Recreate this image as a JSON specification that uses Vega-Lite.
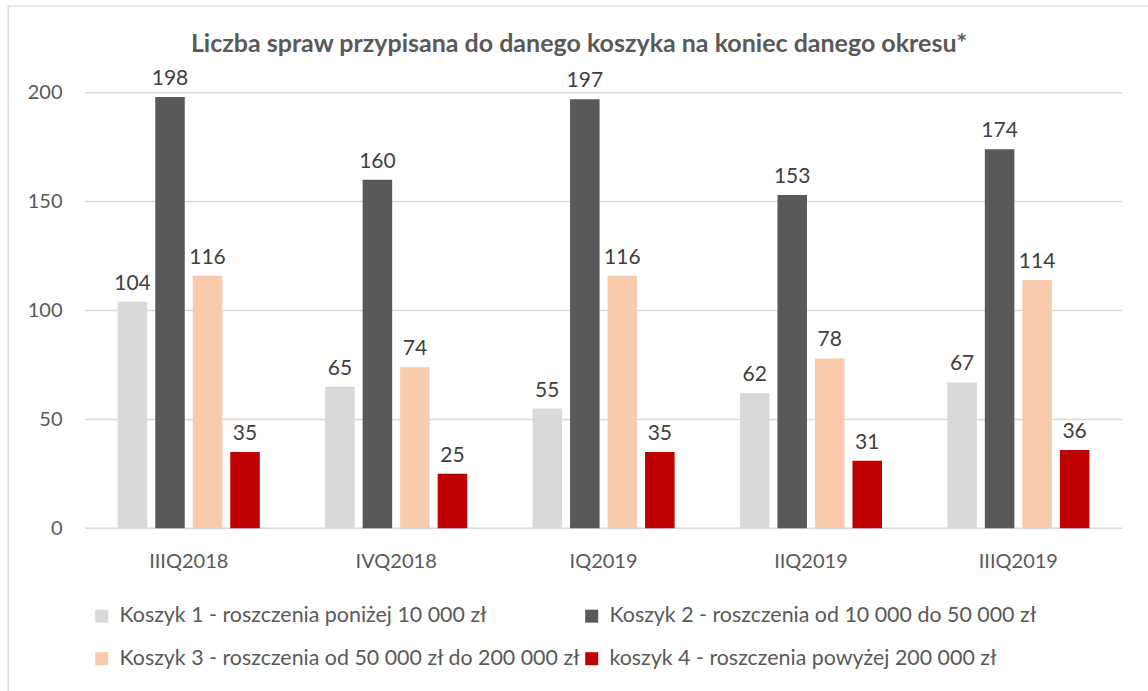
{
  "$schema": "https://vega.github.io/schema/vega-lite/v6.json",
  "width": 1142,
  "height": 687,
  "autosize": "none",
  "padding": {"left": 8, "top": 6, "right": -2, "bottom": -2},
  "background": "white",
  "config": {"view": {"stroke": "#D9D9D9", "strokeWidth": 1.3}, "font": "Lato"},
  "title": {
    "text": "Liczba spraw przypisana do danego koszyka na koniec danego okresu*",
    "font": "Lato",
    "fontSize": 25,
    "fontWeight": "bold",
    "color": "#595959",
    "anchor": "middle",
    "offset": -51
  },
  "layer": [
    {
      "data": {"values": [{"poziom": 0}, {"poziom": 50}, {"poziom": 100}, {"poziom": 150}, {"poziom": 200}]},
      "mark": {"type": "rule", "color": "#D9D9D9", "strokeWidth": 1.5},
      "encoding": {
        "x": {"datum": "IIIQ2018", "type": "nominal", "bandPosition": -0.23},
        "x2": {"datum": "IIIQ2019", "bandPosition": 1.229},
        "y": {"field": "poziom", "type": "quantitative"}
      }
    },
    {
      "data": {
        "values": [
          {"okres": "IIIQ2018", "koszyk": "Koszyk 1 - roszczenia poniżej 10 000 zł", "liczba": 104},
          {"okres": "IIIQ2018", "koszyk": "Koszyk 2 - roszczenia od 10 000 do 50 000 zł", "liczba": 198},
          {"okres": "IIIQ2018", "koszyk": "Koszyk 3 - roszczenia od 50 000 zł do 200 000 zł", "liczba": 116},
          {"okres": "IIIQ2018", "koszyk": "koszyk 4 - roszczenia powyżej 200 000 zł", "liczba": 35},
          {"okres": "IVQ2018", "koszyk": "Koszyk 1 - roszczenia poniżej 10 000 zł", "liczba": 65},
          {"okres": "IVQ2018", "koszyk": "Koszyk 2 - roszczenia od 10 000 do 50 000 zł", "liczba": 160},
          {"okres": "IVQ2018", "koszyk": "Koszyk 3 - roszczenia od 50 000 zł do 200 000 zł", "liczba": 74},
          {"okres": "IVQ2018", "koszyk": "koszyk 4 - roszczenia powyżej 200 000 zł", "liczba": 25},
          {"okres": "IQ2019", "koszyk": "Koszyk 1 - roszczenia poniżej 10 000 zł", "liczba": 55},
          {"okres": "IQ2019", "koszyk": "Koszyk 2 - roszczenia od 10 000 do 50 000 zł", "liczba": 197},
          {"okres": "IQ2019", "koszyk": "Koszyk 3 - roszczenia od 50 000 zł do 200 000 zł", "liczba": 116},
          {"okres": "IQ2019", "koszyk": "koszyk 4 - roszczenia powyżej 200 000 zł", "liczba": 35},
          {"okres": "IIQ2019", "koszyk": "Koszyk 1 - roszczenia poniżej 10 000 zł", "liczba": 62},
          {"okres": "IIQ2019", "koszyk": "Koszyk 2 - roszczenia od 10 000 do 50 000 zł", "liczba": 153},
          {"okres": "IIQ2019", "koszyk": "Koszyk 3 - roszczenia od 50 000 zł do 200 000 zł", "liczba": 78},
          {"okres": "IIQ2019", "koszyk": "koszyk 4 - roszczenia powyżej 200 000 zł", "liczba": 31},
          {"okres": "IIIQ2019", "koszyk": "Koszyk 1 - roszczenia poniżej 10 000 zł", "liczba": 67},
          {"okres": "IIIQ2019", "koszyk": "Koszyk 2 - roszczenia od 10 000 do 50 000 zł", "liczba": 174},
          {"okres": "IIIQ2019", "koszyk": "Koszyk 3 - roszczenia od 50 000 zł do 200 000 zł", "liczba": 114},
          {"okres": "IIIQ2019", "koszyk": "koszyk 4 - roszczenia powyżej 200 000 zł", "liczba": 36}
        ]
      },
      "encoding": {
        "x": {"field": "okres", "type": "nominal", "sort": null},
        "xOffset": {
          "field": "koszyk",
          "type": "nominal",
          "sort": null,
          "scale": {"paddingInner": 0.213, "paddingOuter": 0}
        },
        "y": {"field": "liczba", "type": "quantitative"}
      },
      "layer": [
        {
          "mark": {"type": "bar"},
          "encoding": {
            "color": {
              "field": "koszyk",
              "type": "nominal",
              "sort": null,
              "scale": {
                "domain": [
                  "Koszyk 1 - roszczenia poniżej 10 000 zł",
                  "Koszyk 2 - roszczenia od 10 000 do 50 000 zł",
                  "Koszyk 3 - roszczenia od 50 000 zł do 200 000 zł",
                  "koszyk 4 - roszczenia powyżej 200 000 zł"
                ],
                "range": ["#D9D9D9", "#595959", "#F8CBAD", "#C00000"]
              },
              "legend": {
                "title": null,
                "orient": "none",
                "legendX": 83,
                "legendY": 599,
                "direction": "horizontal",
                "columns": 2,
                "columnPadding": -1,
                "rowPadding": 20,
                "symbolType": "square",
                "symbolSize": 169,
                "symbolStrokeWidth": 0,
                "labelFont": "Lato",
                "labelFontSize": 21.4,
                "labelColor": "#595959",
                "labelLimit": 800,
                "labelOffset": 7
              }
            }
          }
        },
        {
          "mark": {"type": "text", "baseline": "bottom", "dy": -8, "font": "Lato", "fontSize": 21, "color": "#404040"},
          "encoding": {"text": {"field": "liczba", "type": "quantitative"}}
        }
      ]
    }
  ],
  "resolve": {"scale": {"x": "shared", "y": "shared"}},
  "encoding": {
    "x": {
      "type": "nominal",
      "scale": {
        "domain": ["IIIQ2018", "IVQ2018", "IQ2019", "IIQ2019", "IIIQ2019"],
        "paddingInner": 0.315,
        "paddingOuter": 0.41065,
        "align": 0.6442
      },
      "axis": {
        "title": null,
        "domain": false,
        "ticks": false,
        "grid": false,
        "labelAngle": 0,
        "labelFont": "Lato",
        "labelFontSize": 20,
        "labelColor": "#595959",
        "labelPadding": 23,
        "offset": -164.7
      }
    },
    "y": {
      "type": "quantitative",
      "scale": {"domain": [-75.62, 239.81], "nice": false, "zero": false},
      "axis": {
        "title": null,
        "values": [0, 50, 100, 150, 200],
        "domain": false,
        "ticks": false,
        "grid": false,
        "labelFont": "Lato",
        "labelFontSize": 20,
        "labelColor": "#595959",
        "labelPadding": 23,
        "offset": -77
      }
    }
  }
}
